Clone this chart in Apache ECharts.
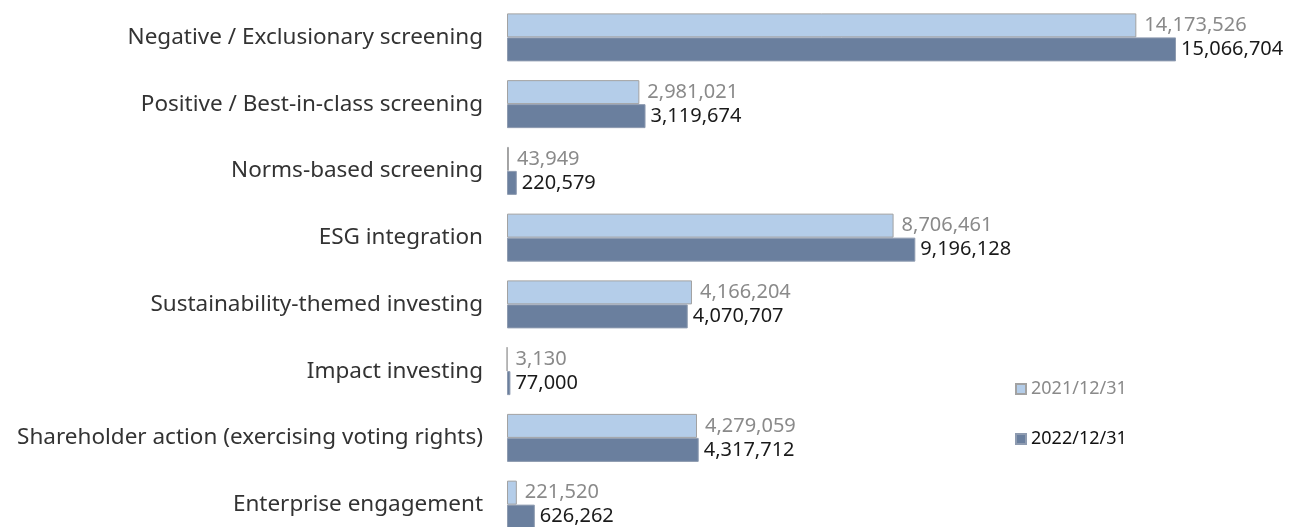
<!DOCTYPE html>
<html>
<head>
<meta charset="utf-8">
<script src="https://cdn.jsdelivr.net/npm/echarts@6/dist/echarts.min.js"></script>
<style>
  html, body { margin: 0; padding: 0; background: #fff; overflow: hidden; }
  #chart { width: 1293px; height: 545px; }
</style>
</head>
<body>
<div id="chart"></div>
<script>
  // categories top to bottom
  var categories = [
    'Negative / Exclusionary screening',
    'Positive / Best-in-class screening',
    'Norms-based screening',
    'ESG integration',
    'Sustainability-themed investing',
    'Impact investing',
    'Shareholder action (exercising voting rights)',
    'Enterprise engagement'
  ]
  var seriesNames = ['2021/12/31', '2022/12/31']
  var values2021 = [14173526, 2981021, 43949, 8706461, 4166204, 3130, 4279059, 221520]
  var values2022 = [15066704, 3119674, 220579, 9196128, 4070707, 77000, 4317712, 626262]

  var font = '"Noto Sans", sans-serif'
  var fmt = function (p) { return p.value.toLocaleString('en-US') }
  var chart = echarts.init(document.getElementById('chart'))
  chart.setOption({
    animation: false,
    legend: {
      orient: 'vertical',
      left: 1010,
      top: 375,
      itemWidth: 10,
      itemHeight: 10,
      itemGap: 32,
      icon: 'rect',
      data: [
        { name: seriesNames[0], textStyle: { color: '#8a8a8a' } },
        { name: seriesNames[1], textStyle: { color: '#111' } }
      ],
      textStyle: { fontSize: 18, fontFamily: font }
    },
    grid: {
      left: 507,
      top: 4,
      width: 669 * 16000000 / 15066704,
      height: 534
    },
    xAxis: {
      type: 'value',
      min: 0,
      max: 16000000,
      show: false
    },
    yAxis: {
      type: 'category',
      inverse: true,
      data: categories,
      axisLine: { show: false },
      axisTick: { show: false },
      axisLabel: {
        margin: 24,
        fontSize: 22.5,
        color: '#333',
        fontFamily: font
      }
    },
    series: [
      {
        name: seriesNames[0],
        type: 'bar',
        data: values2021,
        barWidth: 24,
        barGap: '0%',
        itemStyle: { color: '#b4cde9', borderColor: '#a2a2a2', borderWidth: 1 },
        label: {
          show: true,
          position: 'right',
          distance: 8,
          fontSize: 20,
          color: '#8a8a8a',
          fontFamily: font,
          formatter: fmt
        }
      },
      {
        name: seriesNames[1],
        type: 'bar',
        data: values2022,
        barWidth: 24,
        itemStyle: { color: '#6a7f9e', borderColor: '#8e9bb0', borderWidth: 1 },
        label: {
          show: true,
          position: 'right',
          distance: 5,
          fontSize: 20,
          color: '#1a1a1a',
          fontFamily: font,
          formatter: fmt
        }
      }
    ]
  })
</script>
</body>
</html>
